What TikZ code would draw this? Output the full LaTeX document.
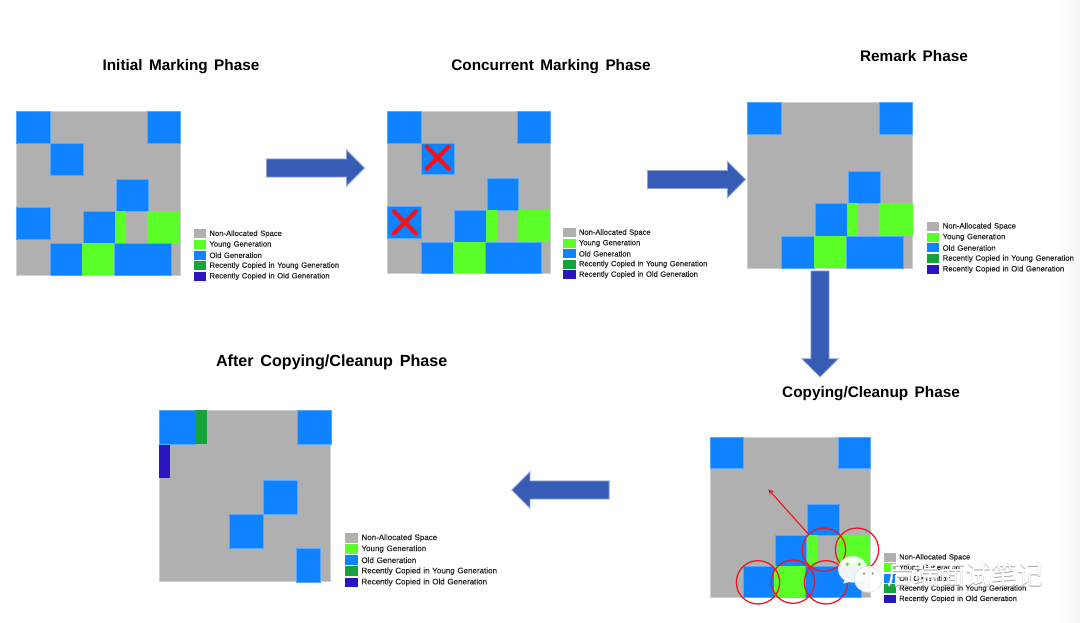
\documentclass[tikz,border=0pt]{standalone}
\usepackage{fontspec}
\setmainfont[WordSpace=1.5]{Liberation Sans}
\newfontfamily\keyfont[WordSpace=1.2,FakeBold=.35]{Liberation Sans}
\newfontfamily\wmfont{Noto Sans CJK SC}
\usepackage{xcolor}
\usetikzlibrary{shapes.arrows}
\definecolor{freecol}{HTML}{B0B0B0}
\definecolor{youngcol}{HTML}{5AFF28}
\definecolor{oldcol}{HTML}{0F82FF}
\definecolor{copyyoungcol}{HTML}{16A33C}
\definecolor{copyoldcol}{HTML}{2A16BE}
\definecolor{arrowcol}{HTML}{365CB5}
\definecolor{markcol}{HTML}{F0141E}
\tikzstyle{heap} = [fill=freecol, draw=freecol!60!white, line width=.5pt]
\tikzstyle{old} = [fill=oldcol, draw=oldcol!70!white, line width=.3pt]
\tikzstyle{young} = [fill=youngcol]
\tikzstyle{phasetitle} = [font=\bfseries\fontsize{11.5}{14}\selectfont, text=black, inner sep=0pt]
\tikzstyle{legendtext} = [font=\keyfont\fontsize{5.75}{7}\selectfont, text=black!85, anchor=west, inner sep=0pt]
\tikzstyle{bigarrow} = [single arrow, fill=arrowcol, draw=arrowcol!55!white, line width=.6pt,
    single arrow head indent=0pt, inner xsep=0pt, inner ysep=6.5pt, single arrow head extend=6.8pt]
\tikzstyle{redring} = [circle, draw=markcol, line width=.95pt, minimum size=32.5pt, inner sep=0pt]
\tikzstyle{redcross} = [draw=markcol, line width=3.2pt, line cap=round]
\tikzstyle{bubble} = [draw=black!12, line width=.4pt, fill=white, fill opacity=.93]

% colour key, one row per region type
\tikzset{
  legend/.pic={
    \foreach \col/\txt [count=\i from 0] in {freecol/Non-Allocated Space, youngcol/Young Generation,
        oldcol/Old Generation, copyyoungcol/Recently Copied in Young Generation,
        copyoldcol/Recently Copied in Old Generation} {
      \fill[\col] (0,{\i*10.6-4.6}) rectangle (12.5,{\i*10.6+4.4});
      \node[legendtext] (-t\i) at (15.5,{\i*10.6}) {\txt};
    }
  }
}

% the regions that are still there in every phase but the last
\newcommand{\commonblocks}{
    \fill[old] (0,0) rectangle (34,32);
    \fill[old] (131,0) rectangle (164,32);
    \fill[old] (100,68) rectangle (132,100);
    \fill[old] (67,100) rectangle (99,132);
    \fill[young] (99,100) rectangle (110,132);
    \fill[young] (131,100) rectangle (164,132);
    \fill[old] (34,132) rectangle (66,164);
    \fill[young] (66,132) rectangle (98,164);
    \fill[old] (98,132) rectangle (155,164);
}
\newcommand{\garbageblocks}{
    \fill[old] (34,32) rectangle (67,64);
    \fill[old] (0,96) rectangle (34,128);
}

\begin{document}
\begin{tikzpicture}[x=.75pt, y=-.75pt]
    \useasboundingbox (0,0) rectangle (1080,623);
    \fill[white] (0,0) rectangle (1080,623);
    \shade[left color=white, right color=black!4] (1058,0) rectangle (1080,623);

    % Initial Marking
    \node[phasetitle] (title1) at (181,66.5) {Initial Marking Phase};
    \begin{scope}[shift={(16,111)}]
        \fill[heap] (0,0) rectangle (164,164);
        \commonblocks
        \garbageblocks
    \end{scope}
    \pic (key1) at (193.7,234) {legend};

    % Concurrent Marking
    \node[phasetitle] (title2) at (551,67) {Concurrent Marking Phase};
    \begin{scope}[shift={(387.3,111.3)}, xscale=.994, yscale=.988]
        \fill[heap] (0,0) rectangle (164,164);
        \commonblocks
        \garbageblocks
    \end{scope}
    \draw[redcross] (426.7,146.7) -- (448.7,168.7) (448.7,146.7) -- (426.7,168.7);
    \draw[redcross] (394,211.3) -- (416,233.3) (416,211.3) -- (394,233.3);
    \pic[scale=.99, transform shape] (key2) at (563.3,232.8) {legend};

    % Remark
    \node[phasetitle] (title3) at (914,56.5) {Remark Phase};
    \begin{scope}[shift={(747.3,102.3)}, xscale=1.008, yscale=1.012]
        \fill[heap] (0,0) rectangle (164,164);
        \commonblocks
    \end{scope}
    \pic[scale=1.012, transform shape] (key3) at (926.7,226.5) {legend};

    % Copying/Cleanup
    \node[phasetitle] (title4) at (871,393.5) {Copying/Cleanup Phase};
    \begin{scope}[shift={(710,437.3)}, xscale=.976, yscale=.978]
        \fill[heap] (0,0) rectangle (164,164);
        \commonblocks
    \end{scope}
    \pic[scale=.98, transform shape] (key4) at (883.7,557.5) {legend};
    \node[redring] (ring1) at (824,549.7) {};
    \node[redring] (ring2) at (857,549.7) {};
    \node[redring] (ring3) at (758,582.3) {};
    \node[redring] (ring4) at (793,581.7) {};
    \node[redring] (ring5) at (826,582.3) {};
    \coordinate (moveto) at (768.3,489.3);
    \draw[-stealth, draw=markcol, line width=.85pt] (ring1.north west) -- (moveto);

    % After Copying/Cleanup
    \node[phasetitle, font=\bfseries\fontsize{12.1}{14}\selectfont] (title5) at (331.7,362.5) {After Copying/Cleanup Phase};
    \begin{scope}[shift={(159.3,410.3)}]
        \fill[heap] (0,0) rectangle (171.4,171.4);
        \fill[old] (0,0) rectangle (36,33.5);
        \fill[copyyoungcol] (36,0) rectangle (47.5,33.5);
        \fill[old] (137.5,0) rectangle (171.4,33.5);
        \fill[copyoldcol] (0,34.5) rectangle (11,68);
        \fill[old] (104,70) rectangle (138,104);
        \fill[old] (70,104) rectangle (104,137.5);
        \fill[old] (137,137.5) rectangle (161,171.4);
    \end{scope}
    \pic[scale=1.045, transform shape] (key5) at (345,538) {legend};

    % block arrows between the phases
    \node[bigarrow, minimum height=73.5pt] (step1) at (311,168) {};
    \node[bigarrow, minimum height=73.5pt] (step2) at (692,179.5) {};
    \node[bigarrow, minimum height=79.5pt, rotate=-90] (step3) at (820,319.4) {};
    \node[bigarrow, minimum height=73pt, rotate=180] (step4) at (565,490) {};

    % chat bubbles and caption over the last key
    \draw[bubble] (852.7,569.3) ellipse (14.5 and 13);
    \fill[white] (846,578) -- (843,583.5) -- (853,581) -- cycle;
    \fill[youngcol!70!copyyoungcol] (847.3,564.3) circle (1.8) (859.3,564.3) circle (1.8);
    \draw[bubble] (868.3,579.3) ellipse (14 and 13);
    \fill[white] (873,590) -- (877,592.5) -- (876,587) -- cycle;
    \fill[black!50] (864,573.5) circle (1.1) (872.7,573.5) circle (1.1);
    \node[font=\wmfont\fontsize{19.5}{21}\selectfont, text=black!35, inner sep=0pt] (markshadow) at (965.7,575.7) {后端面试笔记};
    \node[font=\wmfont\fontsize{19.5}{21}\selectfont, text=white, inner sep=0pt] (mark) at (965,575) {后端面试笔记};
\end{tikzpicture}
\end{document}
